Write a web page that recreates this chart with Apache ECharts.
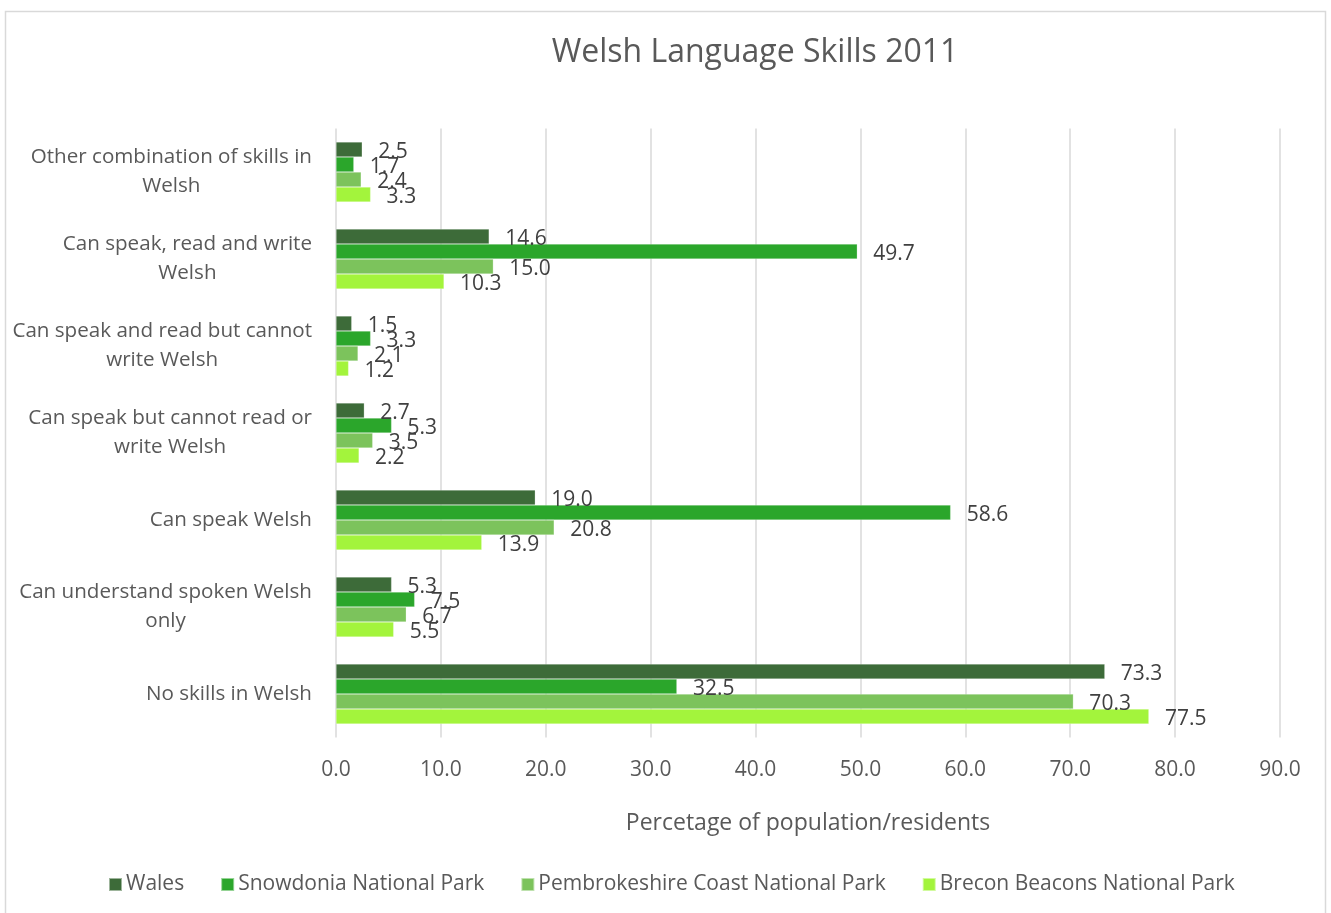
<!DOCTYPE html>
<html>
<head>
<meta charset="utf-8">
<title>Welsh Language Skills 2011</title>
<script src="https://cdn.jsdelivr.net/npm/echarts@6/dist/echarts.min.js"></script>
<style>
  html, body { margin: 0; padding: 0; background: #ffffff; }
  #chart { width: 1331px; height: 913px; }
</style>
</head>
<body>
<div id="chart"></div>
<script>
// Skill categories, top to bottom (line breaks as wrapped on the axis)
const categories = [
  'Other combination of skills in\nWelsh',
  'Can speak, read and write\nWelsh',
  'Can speak and read but cannot\nwrite Welsh',
  'Can speak but cannot read or\nwrite Welsh',
  'Can speak Welsh',
  'Can understand spoken Welsh\nonly',
  'No skills in Welsh'
];

// Percentage of population/residents per area
const wales         = [2.5, 14.6, 1.5, 2.7, 19.0, 5.3, 73.3];
const snowdonia     = [1.7, 49.7, 3.3, 5.3, 58.6, 7.5, 32.5];
const pembrokeshire = [2.4, 15.0, 2.1, 3.5, 20.8, 6.7, 70.3];
const brecon        = [3.3, 10.3, 1.2, 2.2, 13.9, 5.5, 77.5];

const seriesNames = [
  'Wales',
  'Snowdonia National Park',
  'Pembrokeshire Coast National Park',
  'Brecon Beacons National Park'
];
const seriesData = [wales, snowdonia, pembrokeshire, brecon];
const seriesColors = ['#3d6b39', '#2ba62b', '#7cc35c', '#a3f43c'];

const FONT = '"Open Sans", "Noto Sans", sans-serif';

const chart = echarts.init(document.getElementById('chart'), null, { renderer: 'canvas' });

chart.setOption({
  backgroundColor: '#ffffff',
  animation: false,
  textStyle: { fontFamily: FONT },
  graphic: [{
    type: 'rect',
    shape: { x: 5.5, y: 11.5, width: 1320, height: 920 },
    style: { fill: 'none', stroke: '#d9d9d9', lineWidth: 1.5 },
    silent: true,
    z: -10
  }],
  title: {
    text: 'Welsh Language Skills 2011',
    left: 750,
    textAlign: 'center',
    top: 32,
    textStyle: { fontFamily: FONT, fontSize: 32, fontWeight: 'normal', color: '#595959' }
  },
  legend: {
    data: seriesNames,
    left: 103,
    top: 869,
    itemWidth: 13,
    itemHeight: 13,
    itemGap: 36,
    icon: 'rect',
    textStyle: { fontFamily: FONT, fontSize: 21, color: '#595959', padding: [0, 0, 0, -1] }
  },
  grid: { left: 336, right: 51, top: 128.5, bottom: 175.5, containLabel: false },
  xAxis: {
    type: 'value',
    min: 0,
    max: 90,
    interval: 10,
    name: 'Percetage of population/residents',
    nameLocation: 'middle',
    nameGap: 74,
    nameTextStyle: { fontFamily: FONT, fontSize: 23, color: '#595959' },
    axisLine: { show: false },
    axisTick: { show: false },
    axisLabel: {
      margin: 22,
      fontFamily: FONT,
      fontSize: 21,
      color: '#595959',
      formatter: v => v.toFixed(1)
    },
    splitLine: { show: true, lineStyle: { color: '#d9d9d9', width: 1.5 } }
  },
  yAxis: {
    type: 'category',
    inverse: true,
    data: categories,
    axisLine: { show: false },
    axisTick: { show: false },
    axisLabel: {
      margin: 24,
      align: 'right',
      fontFamily: FONT,
      fontSize: 20.6,
      lineHeight: 29,
      color: '#595959',
      formatter: v => v.split('\n').map(line => '{c|' + line + '}').join('\n'),
      rich: { c: { align: 'center', fontFamily: FONT, fontSize: 20.6, lineHeight: 29, color: '#595959' } }
    }
  },
  series: seriesData.map((values, i) => ({
    name: seriesNames[i],
    type: 'bar',
    data: values,
    barGap: '0%',
    barCategoryGap: '31%',
    itemStyle: { color: seriesColors[i], borderColor: 'rgba(255,255,255,0.5)', borderWidth: 0.5 },
    label: {
      show: true,
      position: 'right',
      distance: 16,
      offset: [0, 3],
      fontFamily: FONT,
      fontSize: 21,
      color: '#404040',
      formatter: p => p.value.toFixed(1)
    }
  }))
});
</script>
</body>
</html>
